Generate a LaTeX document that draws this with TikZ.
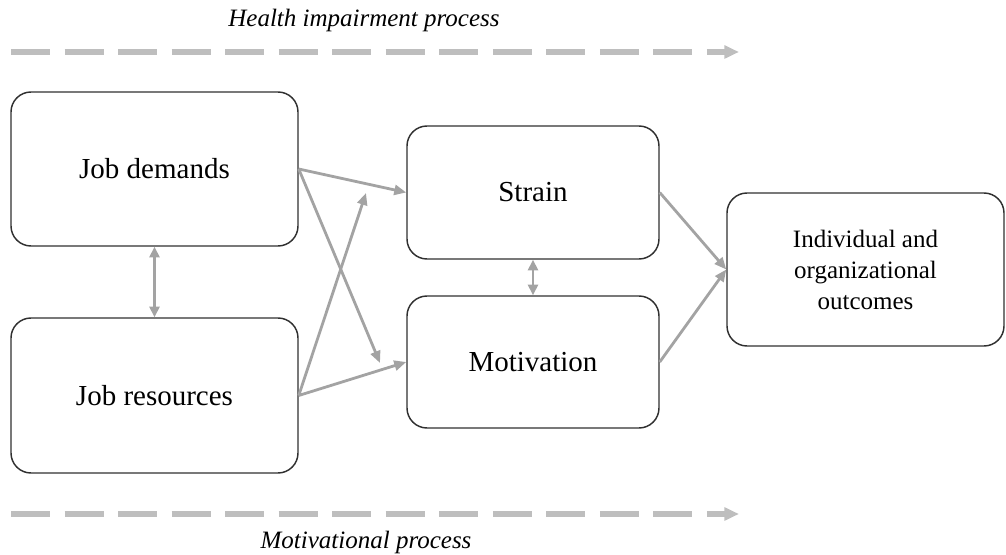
\documentclass[tikz,border=0pt]{standalone}
\usepackage{fontspec}
\setmainfont{Liberation Serif}
\usetikzlibrary{arrows.meta}
\definecolor{boxline}{HTML}{303030}
\definecolor{arrowgray}{HTML}{A3A3A3}
\definecolor{dashgray}{HTML}{BEBEBE}
\def\u{0.75pt}
\tikzset{
  box/.style={draw=boxline, line width=1.1pt, rounded corners=15pt, align=center,
    font=\fontsize{21.75pt}{26pt}\selectfont, inner sep=0pt},
  link/.style={draw=arrowgray, line width=2.1pt, -{Triangle[length=9pt,width=7.5pt]}},
  twolink/.style={draw=arrowgray, line width=2.1pt, {Triangle[length=8pt,width=7.5pt]}-{Triangle[length=8pt,width=7.5pt]}},
  process/.style={draw=dashgray, line width=3.8pt, dash pattern=on 29.25pt off 10.9pt, -{Triangle[length=11pt,width=9.5pt]}},
  proclabel/.style={font=\fontsize{18.75pt}{22pt}\selectfont\itshape, inner sep=0pt}
}
\begin{document}
\begin{tikzpicture}[x=0.75pt, y=-0.75pt]
\useasboundingbox (0,0) rectangle (1006,555);
% boxes
\node[box, minimum width=287*\u, minimum height=154*\u] (jd) at (154.5,169) {Job demands};
\node[box, minimum width=287*\u, minimum height=155*\u] (jr) at (154.5,395.5) {Job resources};
\node[box, minimum width=252*\u, minimum height=133*\u] (st) at (533,192.5) {Strain};
\node[box, minimum width=252*\u, minimum height=132*\u] (mo) at (533,362) {Motivation};
\node[box, minimum width=277*\u, minimum height=153*\u, font=\fontsize{18.75pt}{23.25pt}\selectfont] (out) at (865.5,269.5) {Individual and\\organizational\\outcomes};
% free ends
\coordinate (jdend) at (380,363);
\coordinate (jrend) at (366,193);
% connectors
\draw[link] (jd.east) -- (st.west);
\draw[link] (jd.east) -- (jdend);
\draw[link] (jr.east) -- (jrend);
\draw[link] (jr.east) -- (mo.west);
\draw[link] (st.east) -- (out.west);
\draw[link] (mo.east) -- (out.west);
\draw[twolink] (jd.south) -- (jr.north);
\draw[twolink] (st.south) -- (mo.north);
% processes
\coordinate (hs) at (11,52);
\coordinate (he) at (739,52);
\coordinate (ms) at (11,514);
\coordinate (me) at (739,514);
\draw[process] (hs) -- (he);
\draw[process] (ms) -- (me);
\node[proclabel] (hl) at (364,20) {Health impairment process};
\node[proclabel] (ml) at (366,542) {Motivational process};
\end{tikzpicture}
\end{document}
